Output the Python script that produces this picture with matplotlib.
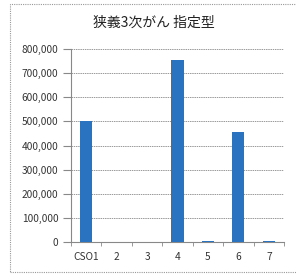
import matplotlib
matplotlib.use("Agg")
import matplotlib.pyplot as plt
from matplotlib.patches import Rectangle
from matplotlib.ticker import FuncFormatter

plt.rcParams['font.family'] = ['Noto Sans CJK JP', 'DejaVu Sans']

# データ
categories = ["CSO1", "2", "3", "4", "5", "6", "7"]
values = [500000, 0, 0, 755000, 6000, 455000, 6000]
title = "狭義3次がん 指定型"

fig = plt.figure(figsize=(2.96, 2.76), dpi=100)
fig.patches.append(Rectangle((10/296, 4/276), 290/296, 268/276, transform=fig.transFigure,
                             fill=False, edgecolor="#999999", linewidth=0.8, linestyle=(0, (1, 1))))

ax = fig.add_axes([71/296, 1 - 242/276, 213/296, 193/276])
x = range(len(categories))
ax.bar(x, values, width=0.4, color="#2a73c0", zorder=3)

ax.set_xlim(-0.5, len(categories) - 0.5)
ax.set_ylim(0, 800000)
ax.set_yticks(range(0, 800001, 100000))
ax.yaxis.set_major_formatter(FuncFormatter(lambda v, p: f"{int(v):,}"))
ax.set_xticks(list(x))
ax.set_xticklabels(categories)
ax.set_xticks([i - 0.5 for i in range(len(categories) + 1)], minor=True)
ax.tick_params(axis="x", which="major", length=0, pad=7)
ax.tick_params(axis="x", which="minor", length=3, color="#888888", direction="out")
ax.tick_params(axis="y", length=6, color="#888888", direction="out", pad=3)
ax.tick_params(labelsize=7.3, labelcolor="#333333")

ax.grid(axis="y", color="#999999", linewidth=0.7, linestyle=(0, (1.5, 0.8)), zorder=0)
for s in ["top", "right"]:
    ax.spines[s].set_visible(False)
ax.spines["left"].set_color("#888888")
ax.spines["bottom"].set_color("#888888")
ax.spines["left"].set_linewidth(0.8)
ax.spines["bottom"].set_linewidth(0.8)

fig.text(154/296, 1 - 23/276, title, ha="center", va="center", fontsize=10, color="#222222")

fig.savefig("out.png", dpi=100)
